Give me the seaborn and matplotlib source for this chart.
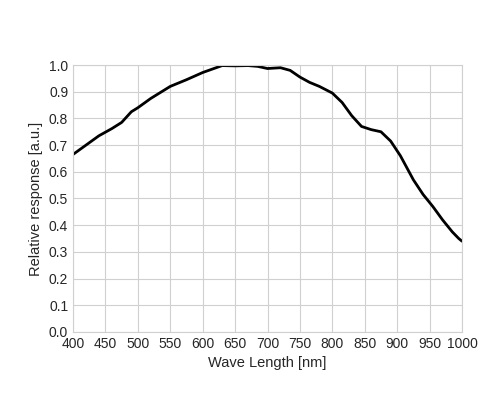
import numpy as np
import pandas as pd
import matplotlib
matplotlib.use("Agg")
import matplotlib.pyplot as plt
import seaborn as sns

wavelength = [400, 420, 440, 460, 475, 490, 500, 520, 550, 575, 600, 615, 630, 650, 670, 685, 700, 720, 735, 750, 765, 780, 800, 815, 830, 845, 860, 875, 890, 905, 925, 940, 955, 970, 985, 995, 1000]
response = [0.665, 0.70, 0.735, 0.762, 0.785, 0.825, 0.84, 0.875, 0.92, 0.945, 0.972, 0.985, 0.998, 0.997, 0.998, 0.995, 0.987, 0.99, 0.98, 0.955, 0.935, 0.92, 0.895, 0.86, 0.81, 0.77, 0.758, 0.75, 0.715, 0.66, 0.57, 0.515, 0.47, 0.42, 0.375, 0.35, 0.34]

df = pd.DataFrame({"Wave Length [nm]": wavelength, "Relative response [a.u.]": response})

sns.set_style("white")
plt.rcParams["font.family"] = ["Liberation Sans", "DejaVu Sans"]
fig, ax = plt.subplots(figsize=(5.0, 4.17), dpi=100)
sns.lineplot(data=df, x="Wave Length [nm]", y="Relative response [a.u.]", ax=ax, color="black", linewidth=2)

ax.set_xlim(400, 1000)
ax.set_ylim(0, 1.0)
ax.set_xticks(np.arange(400, 1001, 50))
ax.set_yticks(np.arange(0, 1.01, 0.1))
ax.set_yticklabels([f"{v:.1f}" for v in np.arange(0, 1.01, 0.1)])
ax.grid(True, color="#d0d0d0", linewidth=0.8)
for s in ax.spines.values():
    s.set_color("#d0d0d0")
ax.tick_params(labelsize=10, length=0)
ax.set_xlabel("Wave Length [nm]", fontsize=10.5)
ax.set_ylabel("Relative response [a.u.]", fontsize=10.5)

fig.subplots_adjust(left=0.146, right=0.924, top=0.844, bottom=0.204)
fig.savefig("out.png")
